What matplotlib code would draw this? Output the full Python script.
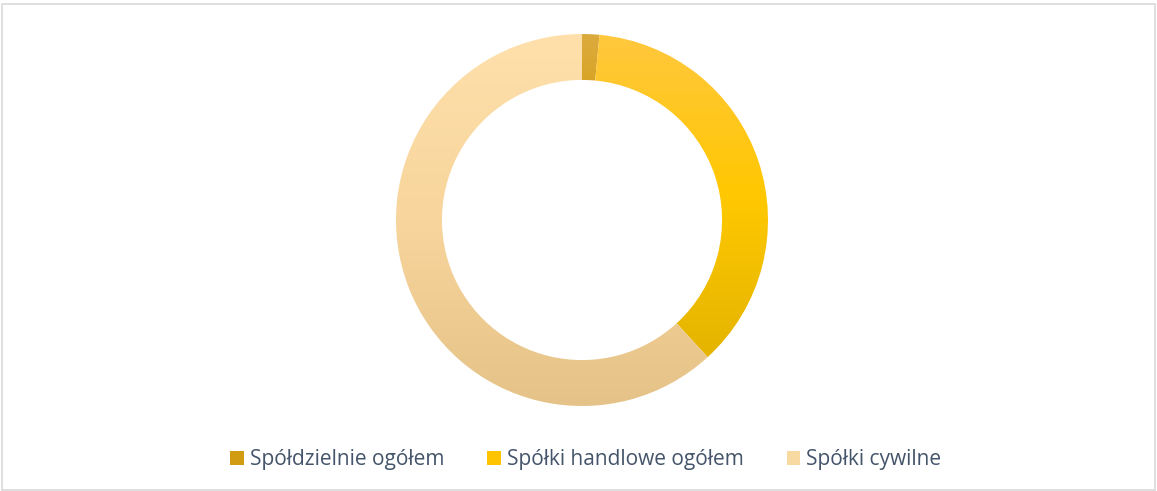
import matplotlib.pyplot as plt
import numpy as np
from matplotlib.colors import LinearSegmentedColormap
from matplotlib.patches import Rectangle, Patch

labels = ["Spółdzielnie ogółem", "Spółki handlowe ogółem", "Spółki cywilne"]
values = [1.5, 36.7, 61.8]
# gradient colours per slice: top, middle, bottom
grads = [["#dcab3e", "#d49e10", "#c99400"],
         ["#ffc73e", "#ffc800", "#e4b400"],
         ["#ffe0ab", "#f7d59c", "#e5c287"]]
legend_cols = ["#d29c12", "#ffc400", "#f8d9a2"]

W, H = 1157, 491
fig = plt.figure(figsize=(W / 100, H / 100), dpi=100)
fig.patches.append(Rectangle((2 / W, 1 / H), (W - 4) / W, (H - 5) / H, transform=fig.transFigure,
                             fill=False, edgecolor="#d9d9d9", linewidth=1.2))

cx, cy, R = 582, 220, 186
ax = fig.add_axes([(cx - R) / W, (H - cy - R) / H, 2 * R / W, 2 * R / H])
wedges, _ = ax.pie(values, startangle=90, counterclock=False, radius=1.0,
                   wedgeprops=dict(width=0.247, edgecolor="none", linewidth=0))

for w, g in zip(wedges, grads):
    w.set_facecolor("none")
    v = w.get_path().vertices
    ymin, ymax = v[:, 1].min(), v[:, 1].max()
    xmin, xmax = v[:, 0].min(), v[:, 0].max()
    cmap = LinearSegmentedColormap.from_list("g", g)
    grad = np.linspace(0, 1, 256).reshape(-1, 1)
    im = ax.imshow(grad, cmap=cmap, aspect="auto", extent=(xmin, xmax, ymin, ymax),
                   origin="upper", interpolation="bilinear")
    im.set_clip_path(w)

ax.set_xlim(-1, 1)
ax.set_ylim(-1, 1)
ax.axis("off")

handles = [Patch(facecolor=c, edgecolor="none") for c in legend_cols]
leg = fig.legend(handles, labels, loc="center", bbox_to_anchor=(586 / W, 1 - 460 / H), ncol=3,
                 frameon=False, handlelength=0.65, handleheight=0.65,
                 handletextpad=0.3, columnspacing=2.05, prop={"family": "Open Sans", "size": 15})
for t in leg.get_texts():
    t.set_color("#44546a")

fig.savefig("out.png", dpi=100)
